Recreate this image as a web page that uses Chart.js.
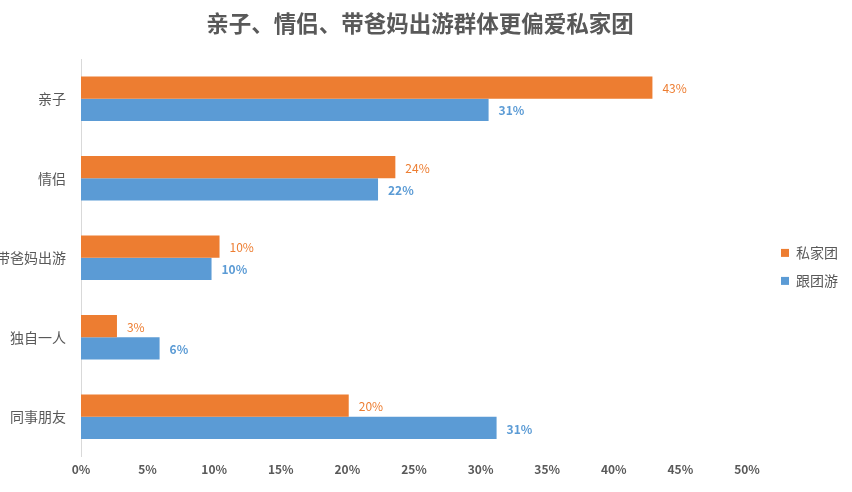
<!DOCTYPE html>
<html>
<head>
<meta charset="utf-8">
<script src="https://cdn.jsdelivr.net/npm/chart.js@4"></script>
<style>
  body { margin: 0; background: #fff; }
  #wrap { width: 852px; height: 492px; }
</style>
</head>
<body>
<div id="wrap"><canvas id="groupChart" width="852" height="492"></canvas></div>
<script>
// categories and values (percent)
const categories = ['亲子', '情侣', '带爸妈出游', '独自一人', '同事朋友'];
const privateTour = [42.9, 23.6, 10.4, 2.7, 20.1];
const groupTour = [30.6, 22.3, 9.8, 5.9, 31.2];
const xTicks = [0, 5, 10, 15, 20, 25, 30, 35, 40, 45, 50];

const cjk = '"Noto Sans CJK SC", "Noto Sans", sans-serif';
const orange = '#ED7D31';
const blue = '#5B9BD5';
const grey = '#595959';

// draw the percent labels to the right of each bar
const barLabels = {
    id: 'barLabels',
    afterDatasetsDraw(chart) {
        const ctx = chart.ctx;
        chart.data.datasets.forEach((ds, i) => {
            const meta = chart.getDatasetMeta(i);
            ctx.save();
            ctx.fillStyle = ds.backgroundColor;
            ctx.font = (i === 1 ? 'bold ' : '') + '12px ' + cjk;
            ctx.textBaseline = 'middle';
            ctx.textAlign = 'left';
            meta.data.forEach((bar, j) => {
                ctx.fillText(Math.round(ds.data[j]) + '%', bar.x + 10, bar.y + 1);
            });
            ctx.restore();
        });
    }
};

// nudge legend and title boxes to the right, like the original layout
const nudgeBoxes = {
    id: 'nudgeBoxes',
    afterLayout(chart) {
        if (chart.legend) { chart.legend.left += 20; chart.legend.right += 20; }
        if (chart.titleBlock) { chart.titleBlock.left += 6; chart.titleBlock.right += 6; }
    }
};

const ctx = document.getElementById('groupChart').getContext('2d');
new Chart(ctx, {
    type: 'bar',
    data: {
        labels: categories,
        datasets: [
            { label: '私家团', data: privateTour, backgroundColor: orange, categoryPercentage: 0.56, barPercentage: 1.0 },
            { label: '跟团游', data: groupTour, backgroundColor: blue, categoryPercentage: 0.56, barPercentage: 1.0 }
        ]
    },
    options: {
        indexAxis: 'y',
        responsive: false,
        animation: false,
        layout: { padding: { left: 0, right: 24, top: 0, bottom: 17 } },
        scales: {
            x: {
                min: 0,
                max: 50,
                afterBuildTicks(scale) { scale.ticks = xTicks.map(v => ({ value: v })); },
                grid: { display: false },
                border: { display: false },
                ticks: {
                    color: grey,
                    font: { family: cjk, size: 12, weight: 'bold' },
                    padding: -2,
                    callback: v => v + '%'
                }
            },
            y: {
                afterFit(scale) { scale.width = 81; },
                grid: { display: false },
                border: { display: true, color: '#d9d9d9', width: 1 },
                ticks: {
                    color: grey,
                    font: { family: cjk, size: 14 },
                    padding: 7
                }
            }
        },
        plugins: {
            title: {
                display: true,
                text: '亲子、情侣、带爸妈出游群体更偏爱私家团',
                color: grey,
                font: { family: cjk, size: 22.5, weight: 'bold' },
                padding: { top: 10, bottom: 22 }
            },
            legend: {
                position: 'right',
                title: { display: true, text: '', padding: 21, font: { size: 14 } },
                labels: {
                    color: grey,
                    font: { family: cjk, size: 14 },
                    boxWidth: 8,
                    boxHeight: 8,
                    padding: 14
                }
            },
            tooltip: { enabled: false }
        }
    },
    plugins: [barLabels, nudgeBoxes]
});
</script>
</body>
</html>
